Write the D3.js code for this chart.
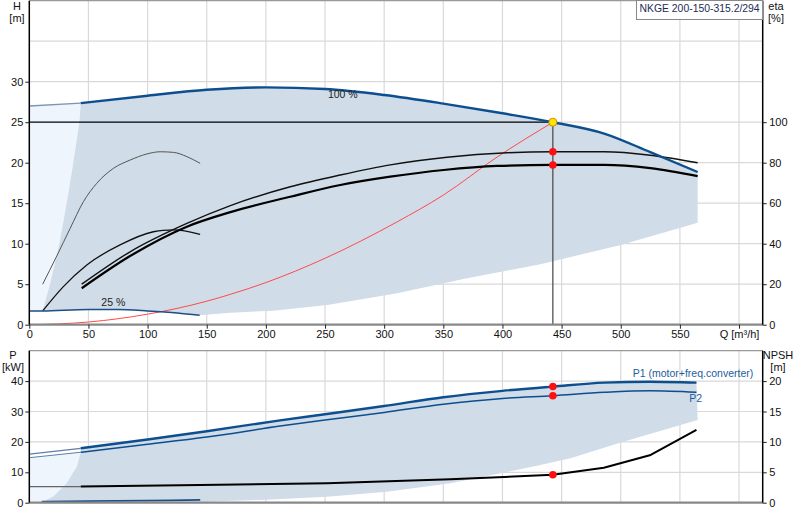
<!DOCTYPE html>
<html>
  <head>
    <meta charset="utf-8">
    <title>NKGE 200-150-315.2/294</title>
    <script src="https://d3js.org/d3.v7.min.js"></script>
    <style>
      body { margin: 0; background: #fff; }
      text { font-family: "Liberation Sans", Arial, sans-serif; font-size: 11px; fill: #111; }
      .grid line { stroke: #d9d9d9; stroke-width: 1.2; }
      .axis path { display: none; }
      .axis line { stroke: #222; }
    </style>
  </head>
  <body>
    <div id="chart"></div>

    <script>
      // ---- data ----
      const minFlow = 43.5;   // left edge of the normal operating area
      const dutyQ = 442.6;
      const dutyH = 25;

      // head at full speed (100 %)
      const flowH = [0, 43.5, 100, 150, 200, 250, 300, 350, 400, 442.6, 486, 525, 565];
      const head100 = [27.0, 27.35, 28.27, 29.0, 29.3, 29.1, 28.36, 27.3, 26.1, 25.0, 23.6, 21.3, 18.85];

      // head at min speed (25 %)
      const flowH25 = [0, 11.3, 50, 75, 100, 125, 144];
      const head25 = [1.69, 1.7, 1.88, 1.87, 1.7, 1.45, 1.16];

      // efficiencies, full speed
      const flowEta1 = [44.3, 85.2, 133.2, 170, 220.6, 262.9, 305.2, 353.2, 404, 442.6, 486, 525, 565];
      const eta1 = [20, 36, 50, 58.8, 68.1, 73.9, 78.9, 82.7, 84.9, 85.4, 85.4, 83.7, 80];
      const flowEta2 = [44.3, 85.2, 133.2, 170, 220.6, 262.9, 305.2, 350.3, 395.5, 442.6, 486, 525, 565];
      const eta2 = [18, 33.9, 48.4, 55.6, 63.2, 69, 73.1, 76.4, 78.4, 78.9, 78.9, 77.3, 73.4];

      // efficiencies, min speed
      const flowEta3 = [11.3, 23.2, 34.4, 45.7, 57.0, 71.1, 85.2, 99.3, 110.6, 121.9, 133.2, 144.4];
      const eta3 = [20, 33.9, 47.4, 60.7, 69.8, 77.2, 81.3, 84.3, 85.4, 85.1, 83.0, 79.7];
      const flowEta4 = [11.3, 28.8, 48.6, 76.7, 104.9, 113, 121.9, 144.4];
      const eta4 = [6.8, 18.8, 29.5, 39.4, 45.9, 46.6, 46.8, 44.6];

      // system curve
      const flowSys = [0, 50, 100, 150, 170, 200, 250, 311, 350, 395.5, 442.6];
      const headSys = [0, 0.33, 1.3, 2.9, 3.75, 5.2, 8.2, 12.7, 16.0, 20.7, 25];

      // operating area boundaries (head chart)
      const leftEdgeQ = [43.5, 42.3, 37.2, 31.6, 25.4, 17.5, 11.3];
      const leftEdgeH = [27.35, 25, 20, 15, 10, 5, 1.7];
      const lowEdgeQ = [144, 170, 206, 252, 311, 367, 432, 500, 565];
      const lowEdgeH = [1.16, 1.48, 1.73, 2.43, 3.88, 5.64, 7.46, 9.84, 12.6];

      // power chart
      const flowP = [0, 43.5, 100, 150, 212, 250, 300, 350, 400, 442.6, 486, 525, 564];
      const powerP1 = [16.0, 17.9, 20.8, 23.5, 27.1, 29.1, 31.8, 34.7, 36.8, 38.2, 39.5, 39.8, 39.5];
      const powerP2 = [14.8, 16.6, 19.2, 21.6, 25.2, 27.2, 29.7, 32.4, 34.3, 35.2, 36.3, 36.8, 36.3];
      const flowP25 = [10.5, 50, 100, 144.5];
      const powerP25 = [0.33, 0.5, 0.7, 0.9];
      const pLeftQ = [43.5, 40.1, 31.6, 20.3, 11.8];
      const pLeftP = [16.6, 11.8, 6.4, 2.0, 0.5];
      const pLowQ = [144.5, 200, 251.6, 302.4, 356, 398.3, 432, 457.5, 500, 565];
      const pLowP = [0.33, 1.0, 1.97, 3.6, 6.4, 9.7, 12.4, 14.6, 19.8, 27.2];

      // NPSH
      const flowN = [0, 43.5, 144.5, 251.6, 356, 442.6, 485.7, 525.3, 564];
      const npsh = [2.63, 2.65, 2.92, 3.19, 3.85, 4.6, 5.76, 7.85, 11.96];

      const xTicks = [0, 50, 100, 150, 200, 250, 300, 350, 400, 450, 500, 550, 600];
      const hTicks = [0, 5, 10, 15, 20, 25, 30];
      const etaTicks = [0, 20, 40, 60, 80, 100];
      const pTicks = [0, 10, 20, 30, 40];
      const nTicks = [0, 5, 10, 15, 20];

      // ---- scales ----
      const W = 800, H = 520;
      const x = d3.scaleLinear().domain([0, 620]).range([29.3, 762.7]);
      const yH = d3.scaleLinear().domain([0, 40]).range([324.7, 0.7]);
      const yEta = d3.scaleLinear().domain([0, 160]).range([324.7, 0.7]);
      const yP = d3.scaleLinear().domain([0, 50]).range([502.7, 350.7]);
      const yN = d3.scaleLinear().domain([0, 25]).range([502.7, 350.7]);

      const svg = d3.select('#chart').append('svg')
        .attr('width', W).attr('height', H);

      const zip = (a, b) => a.map((v, i) => [v, b[i]]);
      const smooth = (ys) => d3.line().x(d => x(d[0])).y(d => ys(d[1])).curve(d3.curveMonotoneX);
      const poly = (ys) => d3.line().x(d => x(d[0])).y(d => ys(d[1]));

      // ---- grids ----
      function grid(ys, yVals) {
        const g = svg.append('g').attr('class', 'grid');
        g.selectAll('.v').data(xTicks.slice(1)).enter().append('line')
          .attr('x1', d => x(d)).attr('x2', d => x(d))
          .attr('y1', ys.range()[0]).attr('y2', ys.range()[1]);
        g.selectAll('.h').data(yVals).enter().append('line')
          .attr('x1', x.range()[0]).attr('x2', x.range()[1])
          .attr('y1', d => ys(d)).attr('y2', d => ys(d));
      }
      grid(yH, [5, 10, 15, 20, 25, 30, 35]);
      grid(yP, [10, 20, 30, 40]);

      // ---- head chart areas ----
      const headPts = zip(flowH, head100);
      const h25Pts = zip(flowH25, head25);
      const leftPts = zip(leftEdgeQ, leftEdgeH);

      const lightArea = headPts.filter(d => d[0] <= minFlow)
        .concat(leftPts)
        .concat(h25Pts.filter(d => d[0] <= 11.3).reverse());
      svg.append('path').attr('d', poly(yH)(lightArea) + 'Z')
        .attr('fill', '#eef5fc');

      const mainArea = headPts.filter(d => d[0] >= minFlow)
        .concat(zip(lowEdgeQ, lowEdgeH).reverse())
        .concat(h25Pts.filter(d => d[0] >= 11.3).reverse())
        .concat(leftPts.slice().reverse());
      svg.append('path').attr('d', poly(yH)(mainArea) + 'Z')
        .attr('fill', '#d0dce8');

      // ---- power chart areas ----
      const p1Pts = zip(flowP, powerP1);
      const p2Pts = zip(flowP, powerP2);
      const pLeft = zip(pLeftQ, pLeftP);
      const pLight = p2Pts.filter(d => d[0] <= minFlow)
        .concat(pLeft)
        .concat([[11.8, 0.3], [0, 0.3]]);
      svg.append('path').attr('d', poly(yP)(pLight) + 'Z')
        .attr('fill', '#eef5fc');

      const pMain = p1Pts.filter(d => d[0] >= minFlow)
        .concat(zip(pLowQ, pLowP).reverse())
        .concat([[11.8, 0.4]])
        .concat(pLeft.slice().reverse())
        .concat([[43.5, 17.9]]);
      svg.append('path').attr('d', poly(yP)(pMain) + 'Z')
        .attr('fill', '#d0dce8');

      // ---- curves ----
      function curve(pts, ys, color, width, straight) {
        svg.append('path').attr('d', (straight ? poly(ys) : smooth(ys))(pts))
          .attr('fill', 'none').attr('stroke', color).attr('stroke-width', width)
          .attr('stroke-linejoin', 'round');
      }

      // duty lines
      svg.append('line')
        .attr('x1', x(0)).attr('x2', x(dutyQ))
        .attr('y1', yH(dutyH)).attr('y2', yH(dutyH))
        .attr('stroke', '#000').attr('stroke-width', 1.2);
      svg.append('line')
        .attr('x1', x(dutyQ)).attr('x2', x(dutyQ))
        .attr('y1', yH(dutyH)).attr('y2', yH(0))
        .attr('stroke', '#444').attr('stroke-width', 1.2);

      curve(zip(flowSys, headSys), yH, '#ff4a4a', 1);

      curve(zip(flowEta3, eta3), yEta, '#555', 1);
      curve(zip(flowEta4, eta4), yEta, '#111', 1.3);
      curve(zip(flowEta1, eta1), yEta, '#111', 1.4);
      curve(zip(flowEta2, eta2), yEta, '#000', 2.2);

      curve(h25Pts, yH, '#1b4f86', 1.5);
      curve(headPts.filter(d => d[0] <= minFlow), yH, '#7c95b3', 1.3);
      curve(headPts.filter(d => d[0] >= minFlow), yH, '#0d4e8f', 2.4);

      curve(zip(flowP25, powerP25), yP, '#1b4f86', 1.8);
      curve(p1Pts.filter(d => d[0] <= minFlow), yP, '#5f7fa6', 1.2);
      curve(p2Pts.filter(d => d[0] <= minFlow), yP, '#5f7fa6', 1);
      curve(p1Pts.filter(d => d[0] >= minFlow), yP, '#0d4e8f', 2.4);
      curve(p2Pts.filter(d => d[0] >= minFlow), yP, '#0d4e8f', 1.5);

      const nPts = zip(flowN, npsh);
      curve(nPts.filter(d => d[0] <= minFlow), yN, '#666', 1.2, true);
      curve(nPts.filter(d => d[0] >= minFlow), yN, '#000', 2, true);

      // ---- duty point markers ----
      const at = (qs, vs) => d3.scaleLinear().domain(qs).range(vs)(dutyQ);
      const dots = [
        [yEta, at(flowEta1, eta1)],
        [yEta, at(flowEta2, eta2)],
        [yP, at(flowP, powerP1)],
        [yP, at(flowP, powerP2)],
        [yN, at(flowN, npsh)]
      ];
      svg.selectAll('.dot').data(dots).enter().append('circle')
        .attr('cx', x(dutyQ)).attr('cy', d => d[0](d[1])).attr('r', 3.8)
        .attr('fill', '#ff1010');
      svg.append('circle')
        .attr('cx', x(dutyQ)).attr('cy', yH(dutyH)).attr('r', 4)
        .attr('fill', '#ffe800').attr('stroke', '#d08a00').attr('stroke-width', 1);

      // ---- frames and axes ----
      function frame(ys) {
        const [b, t] = ys.range();
        svg.append('line').attr('x1', x.range()[0]).attr('x2', x.range()[1])
          .attr('y1', t).attr('y2', t).attr('stroke', '#999').attr('stroke-width', 1.2);
        svg.append('line').attr('x1', x.range()[0]).attr('x2', x.range()[1])
          .attr('y1', b).attr('y2', b).attr('stroke', '#888').attr('stroke-width', 2.2);
        [x.range()[0], x.range()[1]].forEach(px => {
          svg.append('line').attr('x1', px).attr('x2', px)
            .attr('y1', t).attr('y2', b).attr('stroke', '#000').attr('stroke-width', 1.5);
        });
      }
      frame(yH);
      frame(yP);

      svg.append('g').attr('class', 'axis')
        .attr('transform', `translate(${x.range()[0]},0)`)
        .call(d3.axisLeft(yH).tickValues(hTicks).tickSize(4).tickPadding(2).tickFormat(d3.format('d')));
      svg.append('g').attr('class', 'axis')
        .attr('transform', `translate(${x.range()[1]},0)`)
        .call(d3.axisRight(yEta).tickValues(etaTicks).tickSize(4).tickPadding(2.5).tickFormat(d3.format('d')));
      svg.append('g').attr('class', 'axis')
        .attr('transform', `translate(0,${yH(0)})`)
        .call(d3.axisBottom(x).tickValues(xTicks).tickSize(4).tickPadding(2)
          .tickFormat(d => d === 600 ? 'Q [m\u00b3/h]' : d));
      svg.append('g').attr('class', 'axis')
        .attr('transform', `translate(${x.range()[0]},0)`)
        .call(d3.axisLeft(yP).tickValues(pTicks).tickSize(4).tickPadding(2).tickFormat(d3.format('d')));
      svg.append('g').attr('class', 'axis')
        .attr('transform', `translate(${x.range()[1]},0)`)
        .call(d3.axisRight(yN).tickValues(nTicks).tickSize(4).tickPadding(2.5).tickFormat(d3.format('d')));
      svg.selectAll('.axis text').style('font-size', '11px').attr('fill', '#111');

      // ---- labels ----
      function label(txt, px, py, anchor, color, size) {
        svg.append('text').text(txt).attr('x', px).attr('y', py)
          .attr('text-anchor', anchor || 'middle')
          .attr('dominant-baseline', 'central')
          .style('fill', color || '#111')
          .style('font-size', (size || 11) + 'px');
      }
      label('H', 17, 6);
      label('[m]', 17, 18);
      label('eta', 776, 6);
      label('[%]', 776, 18);
      label('P', 13, 355);
      label('[kW]', 13, 367);
      label('NPSH', 778, 355);
      label('[m]', 778, 367);

      label('100 %', x(265), yH(28.5), 'middle', '#222', 10.5);
      label('25 %', x(71), yH(2.84), 'middle', '#222', 10.5);
      label('P1 (motor+freq.converter)', x(612), yP(42.7), 'end', '#1d5c9c', 10.5);
      label('P2', x(558), yP(34.4), 'start', '#1d5c9c', 10.5);

      // title box
      svg.append('rect')
        .attr('x', 636.5).attr('y', 0.5).attr('width', x.range()[1] - 636.5).attr('height', 19)
        .attr('fill', '#fff').attr('stroke', '#888').attr('stroke-width', 1);
      label('NKGE 200-150-315.2/294', 639.5, 8, 'start', '#1c2d55', 10.4);
    </script>
  </body>
</html>
